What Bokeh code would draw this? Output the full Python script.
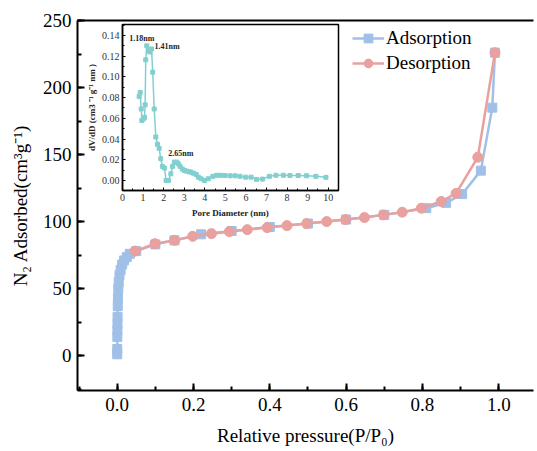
from bokeh.plotting import figure
from bokeh.models import (Range1d, LinearAxis, Column, Legend, LegendItem, FixedTicker,
                          SingleIntervalTicker, NumeralTickFormatter, ColumnDataSource)
from bokeh.embed import file_html
from bokeh.resources import INLINE
from bokeh.core.properties import value

# ---------------- data ----------------
ads_p = [0.0001, 0.0002, 0.0004, 0.0006, 0.0008, 0.001, 0.0015, 0.002, 0.003, 0.004,
         0.006, 0.009, 0.013, 0.018, 0.025, 0.033, 0.05, 0.10, 0.15, 0.22, 0.30,
         0.40, 0.50, 0.60, 0.70, 0.81, 0.862, 0.904, 0.953, 0.983, 0.99]
ads_v = [1, 5, 14, 19, 24, 29, 37, 43, 50, 55,
         60, 64, 68, 71, 73.5, 76, 78, 83, 86, 90.5, 93,
         96, 98.5, 101.5, 105, 110, 114, 120.5, 138, 185, 226]
des_p = [0.99, 0.945, 0.888, 0.849, 0.797, 0.747, 0.698, 0.648, 0.599, 0.549,
         0.497, 0.445, 0.393, 0.341, 0.294, 0.247, 0.198, 0.151, 0.099, 0.047]
des_v = [226, 148, 121, 115, 110, 107, 105, 103, 101.5, 100,
         98.5, 97, 95.5, 94, 92.5, 91, 89, 86, 83.5, 78]

pore_d = [0.81, 0.86, 0.91, 0.94, 1.02, 1.07, 1.10, 1.13, 1.18, 1.26, 1.34, 1.41, 1.47,
          1.54, 1.62, 1.70, 1.78, 1.86, 1.94, 2.04, 2.12, 2.23, 2.35, 2.43, 2.52, 2.64,
          2.72, 2.80, 2.91, 3.01, 3.12, 3.24, 3.33, 3.45, 3.58, 3.69, 3.82, 3.98, 4.17,
          4.39, 4.58, 4.77, 4.98, 5.23, 5.47, 5.71, 5.99, 6.25, 6.52, 6.81, 7.14, 7.46,
          7.82, 8.14, 8.54, 8.95, 9.40, 9.89]
dvdd = [0.081, 0.085, 0.069, 0.058, 0.0595, 0.061, 0.073, 0.1165, 0.130, 0.125, 0.124,
        0.127, 0.1046, 0.069, 0.042, 0.035, 0.031, 0.021, 0.0135, 0.012, 0.000, 0.000,
        0.0064, 0.0135, 0.0177, 0.0177, 0.016, 0.0135, 0.011, 0.0097, 0.009, 0.0084,
        0.008, 0.007, 0.0058, 0.0032, 0.0016, 0.000, 0.0016, 0.004, 0.005, 0.005, 0.0048,
        0.0045, 0.0045, 0.004, 0.0032, 0.0032, 0.001, 0.0013, 0.004, 0.005, 0.005, 0.0048,
        0.0048, 0.0045, 0.004, 0.003]

peak_labels = ["1.18nm", "1.41nm", "2.65nm"]
peak_d = [1.18, 1.41, 2.64]
peak_v = [0.130, 0.127, 0.0177]

FONT = "Liberation Serif"
BLUE = "#a0c0e8"
PINK = "#e8a19e"
TEAL = "#82cfcf"

# ---------------- main plot ----------------
p = figure(width=537, height=451, x_range=Range1d(-0.104, 1.091), y_range=Range1d(-26, 250),
           output_backend="svg", toolbar_location=None,
           min_border_left=77, min_border_right=0, min_border_top=20, min_border_bottom=61)
p.outline_line_color = None
p.grid.visible = False
p.background_fill_color = "white"

r1l = p.line(ads_p, ads_v, line_color=BLUE, line_width=2.5)
r1s = p.scatter(ads_p, ads_v, marker="square", size=9, fill_color=BLUE, line_color=BLUE)
r2l = p.line(des_p, des_v, line_color=PINK, line_width=2.5)
r2s = p.scatter(des_p, des_v, marker="circle", size=10, fill_color=PINK, line_color=PINK)

p.xaxis.ticker = SingleIntervalTicker(interval=0.2, num_minor_ticks=2)
p.xaxis.formatter = NumeralTickFormatter(format="0.0")
p.yaxis.ticker = SingleIntervalTicker(interval=50, num_minor_ticks=2)
p.xaxis.axis_label = "Relative pressure(P/P\u2080)"
p.yaxis.axis_label = "N\u2082 Adsorbed(cm\u00b3g\u207b\u00b9)"
for ax in (p.xaxis[0], p.yaxis[0]):
    ax.axis_line_width = 2
    ax.axis_line_color = "black"
    ax.major_tick_line_width = 2
    ax.minor_tick_line_width = 2
    ax.major_tick_in = 7
    ax.major_tick_out = 0
    ax.minor_tick_in = 4
    ax.minor_tick_out = 0
    ax.major_label_text_font = FONT
    ax.major_label_text_font_size = "19px"
    ax.major_label_text_color = "black"
    ax.axis_label_text_font = FONT
    ax.axis_label_text_font_size = "19px"
    ax.axis_label_text_font_style = "normal"
    ax.axis_label_text_color = "black"
p.xaxis.major_label_standoff = 7
p.xaxis.axis_label_standoff = 11
p.yaxis.major_label_standoff = 6
p.yaxis.axis_label_standoff = 9

top_axis = LinearAxis(ticker=FixedTicker(ticks=[]), axis_line_width=2, axis_line_color="black",
                      major_tick_in=0, major_tick_out=0, minor_tick_in=0, minor_tick_out=0,
                      major_label_standoff=0)
p.add_layout(top_axis, "above")

legend = Legend(items=[LegendItem(label="Adsorption", renderers=[r1l, r1s]),
                       LegendItem(label="Desorption", renderers=[r2l, r2s])],
                location=(275, 316), label_text_font=FONT, label_text_font_size="19px",
                label_text_color="black", background_fill_alpha=0, border_line_color=None,
                glyph_width=32, glyph_height=22, label_height=22, label_standoff=2,
                spacing=3, padding=4, margin=0)
p.add_layout(legend)

# ---------------- inset ----------------
# left border matches the main plot's (Bokeh aligns frame edges in a column)
q = figure(width=297, height=202, x_range=Range1d(0, 10.5),
           y_range=Range1d(-0.0097, 0.1506), output_backend="svg", toolbar_location=None,
           min_border_left=77, min_border_right=4, min_border_top=4, min_border_bottom=32)
q.border_fill_color = None
q.background_fill_color = "white"
q.outline_line_color = "black"
q.outline_line_width = 1.5
q.grid.visible = False

q.line(pore_d, dvdd, line_color=TEAL, line_width=1.5)
q.scatter(pore_d, dvdd, marker="square", size=4, fill_color=TEAL, line_color=TEAL)

src = ColumnDataSource(dict(x=peak_d, y=peak_v, t=peak_labels,
                            xo=[-5, 3, 4], yo=[-3, -2, -4],
                            al=["center", "left", "center"],
                            bl=["bottom", "middle", "bottom"]))
q.text(x="x", y="y", text="t", x_offset="xo", y_offset="yo", text_align="al",
       text_baseline="bl", source=src, text_font=value(FONT), text_font_size="8px",
       text_font_style="bold", text_color="#222222")

q.xaxis.ticker = SingleIntervalTicker(interval=1, num_minor_ticks=2)
q.yaxis.ticker = SingleIntervalTicker(interval=0.02, num_minor_ticks=2)
q.yaxis.formatter = NumeralTickFormatter(format="0.00")
q.xaxis.axis_label = "Pore Diameter (nm)"
q.yaxis.axis_label = "dV/dD (cm3 \u207b\u00b9 g\u207b\u00b9 nm )"
for ax in (q.xaxis[0], q.yaxis[0]):
    ax.axis_line_width = 1.5
    ax.major_tick_in = 3
    ax.major_tick_out = 0
    ax.minor_tick_in = 2
    ax.minor_tick_out = 0
    ax.major_label_text_font = FONT
    ax.major_label_text_font_size = "10px"
    ax.major_label_text_color = "#333333"
    ax.axis_label_text_font = FONT
    ax.axis_label_text_font_size = "9px"
    ax.axis_label_text_font_style = "bold"
    ax.axis_label_text_color = "#222222"
    ax.major_label_standoff = 3
q.xaxis.axis_label_standoff = 4
q.yaxis.axis_label_standoff = 2

q.styles = {"position": "absolute", "left": "45px", "top": "20px"}
layout = Column(p, q, styles={"position": "relative"})

open("out.html", "w").write(file_html(layout, INLINE))
